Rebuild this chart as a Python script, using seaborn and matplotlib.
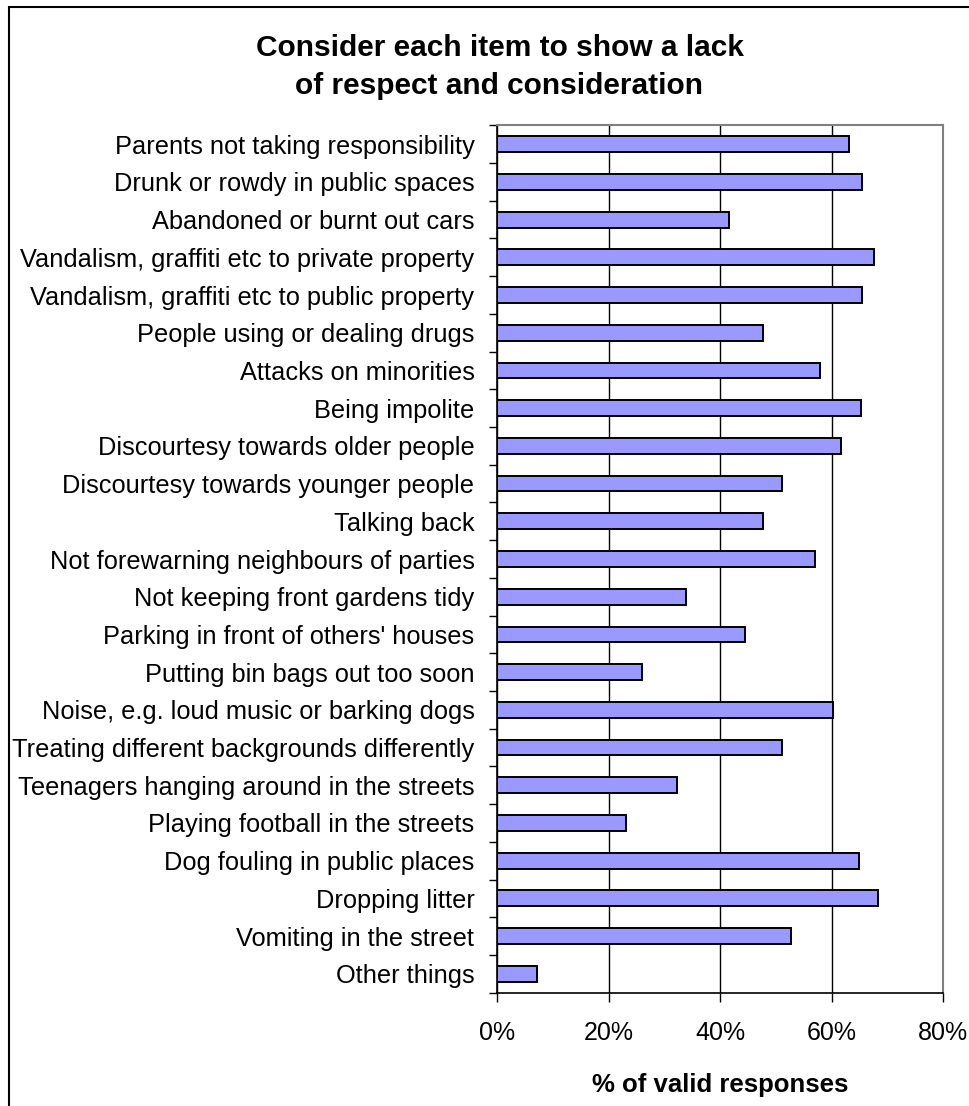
import matplotlib
matplotlib.use("Agg")
import matplotlib.pyplot as plt
import seaborn as sns
import pandas as pd
from matplotlib.patches import Rectangle
from matplotlib.ticker import FixedLocator, PercentFormatter

categories = [
    "Parents not taking responsibility",
    "Drunk or rowdy in public spaces",
    "Abandoned or burnt out cars",
    "Vandalism, graffiti etc to private property",
    "Vandalism, graffiti etc to public property",
    "People using or dealing drugs",
    "Attacks on minorities",
    "Being impolite",
    "Discourtesy towards older people",
    "Discourtesy towards younger people",
    "Talking back",
    "Not forewarning neighbours of parties",
    "Not keeping front gardens tidy",
    "Parking in front of others' houses",
    "Putting bin bags out too soon",
    "Noise, e.g. loud music or barking dogs",
    "Treating different backgrounds differently",
    "Teenagers hanging around in the streets",
    "Playing football in the streets",
    "Dog fouling in public places",
    "Dropping litter",
    "Vomiting in the street",
    "Other things",
]
values = [63.1, 65.4, 41.6, 67.5, 65.4, 47.7, 57.8, 65.3, 61.7, 51.0, 47.7,
          57.0, 33.8, 44.5, 25.9, 60.3, 51.0, 32.3, 23.0, 64.9, 68.2, 52.7, 7.2]
x_ticks = [0, 20, 40, 60, 80]
title = "Consider each item to show a lack\nof respect and consideration"
x_label = "% of valid responses"

df = pd.DataFrame({"item": categories, "pct": values})

sns.set_style("white")
plt.rcParams["font.family"] = ["Liberation Sans", "DejaVu Sans"]
plt.rcParams["text.color"] = "black"
plt.rcParams["xtick.color"] = "black"
plt.rcParams["ytick.color"] = "black"
plt.rcParams["axes.labelcolor"] = "black"

fig = plt.figure(figsize=(9.7, 11.06), dpi=100)
ax = fig.add_axes([497.3 / 970, 1 - 992.7 / 1106, (943.3 - 497.3) / 970, (992.7 - 125.3) / 1106])

sns.barplot(data=df, y="item", x="pct", orient="h", color="#9999FF",
            edgecolor="black", linewidth=1.4, width=0.42, saturation=1, ax=ax)

ax.set_xlim(0, 80)
ax.set_ylim(len(categories) - 0.5, -0.5)
ax.xaxis.set_major_locator(FixedLocator(x_ticks))
ax.xaxis.set_major_formatter(PercentFormatter(decimals=0))
ax.grid(axis="x", color="black", linewidth=1.0)
ax.grid(axis="y", visible=False)
ax.set_axisbelow(True)

ax.yaxis.set_minor_locator(FixedLocator([i + 0.5 for i in range(-1, len(categories))]))
ax.tick_params(axis="y", which="major", length=0, pad=16.5, labelsize=18.3, labelcolor="black")
ax.tick_params(axis="y", which="minor", length=6, width=1, direction="out", color="black", left=True)
ax.tick_params(axis="x", which="major", length=6.5, width=1, direction="out", color="black",
               bottom=True, pad=14, labelsize=18, labelcolor="black")

for s in ["left", "bottom"]:
    ax.spines[s].set_color("black")
    ax.spines[s].set_linewidth(1.2)
for s in ["top", "right"]:
    ax.spines[s].set_color("#808080")
    ax.spines[s].set_linewidth(1.5)

ax.set_ylabel("")
ax.set_xlabel(x_label, fontsize=18.5, fontweight="bold", labelpad=20, color="black")

fig.text(499.5 / 970, 1 - 67 / 1106, title, ha="center", va="center",
         fontsize=21.5, fontweight="bold", linespacing=1.45, color="black")

fig.patches.append(Rectangle((9 / 970, -0.1), 1.2, 1 - 7 / 1106 + 0.1,
                             transform=fig.transFigure, fill=False,
                             edgecolor="black", linewidth=1.5))

fig.savefig("out.png", dpi=100)
